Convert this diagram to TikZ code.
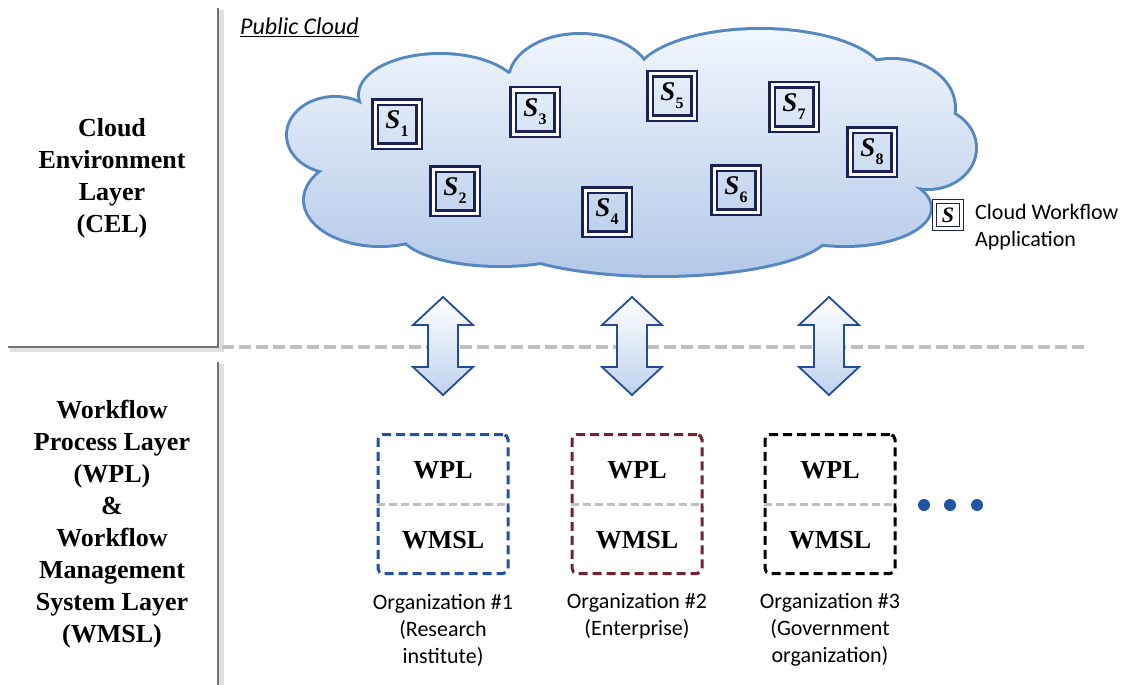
\documentclass[tikz,border=0pt]{standalone}
\usepackage{fontspec}
\setmainfont{Liberation Serif}
\newfontfamily\carlito{Carlito}
\definecolor{cloudTop}{RGB}{242,247,253}
\definecolor{cloudBot}{RGB}{178,200,232}
\definecolor{cloudLine}{RGB}{85,135,195}
\definecolor{navy}{RGB}{28,33,85}
\definecolor{arrowLine}{RGB}{35,75,155}
\definecolor{arrowFill}{RGB}{190,210,238}
\definecolor{orgBlue}{RGB}{35,80,165}
\definecolor{orgRed}{RGB}{115,35,45}
\definecolor{dotBlue}{RGB}{30,85,165}
\definecolor{dashGray}{RGB}{192,192,192}
\newcommand{\Slab}[1]{{\bfseries\itshape S}\kern0.3pt\raisebox{-0.3em}{\fontsize{16}{16}\selectfont\bfseries #1}}
\tikzset{
  sbox/.style={draw=navy, double=white, double distance=3pt, line width=2.2pt,
    minimum size=44pt, inner sep=0pt, font=\fontsize{27}{27}\selectfont},
  legbox/.style={draw=navy, double=white, double distance=2.2pt, line width=1.8pt,
    fill=white, minimum size=27pt, inner sep=0pt, font=\fontsize{22}{22}\selectfont},
  orgbox/.style={draw=#1, line width=3pt, dash pattern=on 9pt off 5pt,
    rounded corners=5pt, minimum width=130pt, minimum height=139pt, inner sep=0pt},
  layertxt/.style={font=\fontsize{26}{32}\selectfont\bfseries, align=center},
  boxtxt/.style={font=\fontsize{26}{26}\selectfont\bfseries},
  orgtxt/.style={font=\carlito\fontsize{22}{27}\selectfont, align=center},
  divider/.style={draw=dashGray, line width=3pt, dash pattern=on 8pt off 4pt},
  blockarrow/.style={top color=white, bottom color=arrowFill, draw=arrowLine,
    line width=1.8pt, line join=miter},
  shadowA/.style={draw=black!12, line width=6pt},
  shadowB/.style={draw=black!55, line width=2pt},
}
\newcommand{\cloudpath}{
  (630,160) ellipse [x radius=290pt, y radius=95pt]
  (335,135) ellipse [x radius=47pt, y radius=37pt]
  (380,200) ellipse [x radius=75pt, y radius=45pt]
  (440,95) ellipse [x radius=80pt, y radius=40pt]
  (580,80) ellipse [x radius=70pt, y radius=45pt]
  (760,80) ellipse [x radius=125pt, y radius=50pt]
  (892,108) ellipse [x radius=62pt, y radius=48pt]
  (928,148) ellipse [x radius=47pt, y radius=40pt]
  (845,208) ellipse [x radius=85pt, y radius=37pt]
  (660,230) ellipse [x radius=170pt, y radius=45pt]
  (500,230) ellipse [x radius=100pt, y radius=35pt]
}
\newcommand{\blockarr}[1]{
  \path[blockarrow] (#1,297) -- (#1+30,325) -- (#1+15,325) -- (#1+15,367)
    -- (#1+30,367) -- (#1,395) -- (#1-30,367) -- (#1-15,367) -- (#1-15,325)
    -- (#1-30,325) -- cycle;
}
\begin{document}
\begin{tikzpicture}[x=1pt,y=-1pt]
\useasboundingbox (0,0) rectangle (1122,685);
\fill[white] (0,0) rectangle (1122,685);

% left panels with shadows
\draw[shadowA] (221,10) -- (221,349) -- (10,349);
\draw[shadowB] (218,8) -- (218,347) -- (8,347);
\draw[shadowA] (221,364) -- (221,685);
\draw[shadowB] (218,362) -- (218,685);

\node[layertxt] (cel) at (112,178) {Cloud\\Environment\\Layer\\(CEL)};
\node[layertxt] (wpl) at (112,524) {Workflow\\Process Layer\\(WPL)\\\&\\Workflow\\Management\\System Layer\\(WMSL)};

% layer separator
\coordinate (sepL) at (222,347);
\coordinate (sepR) at (1085,347);
\draw[draw=dashGray, line width=4pt, dash pattern=on 12pt off 5pt] (sepL) -- (sepR);

% cloud
\draw[draw=cloudLine, line width=6pt] \cloudpath;
\begin{scope}
  \clip \cloudpath;
  \shade[top color=cloudTop, bottom color=cloudBot] (280,25) rectangle (985,280);
\end{scope}
\node[anchor=west, font=\carlito\fontsize{24}{24}\selectfont, inner sep=0pt] (pub) at (240,27) {\underline{\itshape Public Cloud}};

% services
\node[sbox] (s1) at (397,124) {\Slab{1}};
\node[sbox] (s2) at (455,191) {\Slab{2}};
\node[sbox] (s3) at (535,112) {\Slab{3}};
\node[sbox] (s4) at (607,212) {\Slab{4}};
\node[sbox] (s5) at (672,96) {\Slab{5}};
\node[sbox] (s6) at (736,190) {\Slab{6}};
\node[sbox] (s7) at (794,107) {\Slab{7}};
\node[sbox] (s8) at (872,152) {\Slab{8}};

% legend
\node[legbox] (leg) at (948,215) {{\bfseries\itshape S}};
\node[anchor=west, align=left, font=\carlito\fontsize{22}{27}\selectfont, inner sep=0pt] (legtxt) at (975,227) {Cloud Workflow\\Application};

% block arrows
\blockarr{443}
\blockarr{632}
\blockarr{829}

% organizations
\node[orgbox=orgBlue] (org1) at (443,504) {};
\node[orgbox=orgRed] (org2) at (637,504) {};
\node[orgbox=black] (org3) at (830,504) {};
\foreach \o in {org1,org2,org3}{
  \draw[divider] (\o.west) -- (\o.east);
  \node[boxtxt] at ([yshift=34pt]\o.center) {WPL};
  \node[boxtxt] at ([yshift=-36pt]\o.center) {WMSL};
}
\node[orgtxt] (lab1) at (443,630) {Organization \#1\\(Research\\institute)};
\node[orgtxt] (lab2) at (637,616) {Organization \#2\\(Enterprise)};
\node[orgtxt] (lab3) at (830,630) {Organization \#3\\(Government\\organization)};

% dots
\fill[dotBlue] (924,505) circle (6pt) (950,505) circle (6pt) (977,505) circle (6pt);
\end{tikzpicture}
\end{document}
